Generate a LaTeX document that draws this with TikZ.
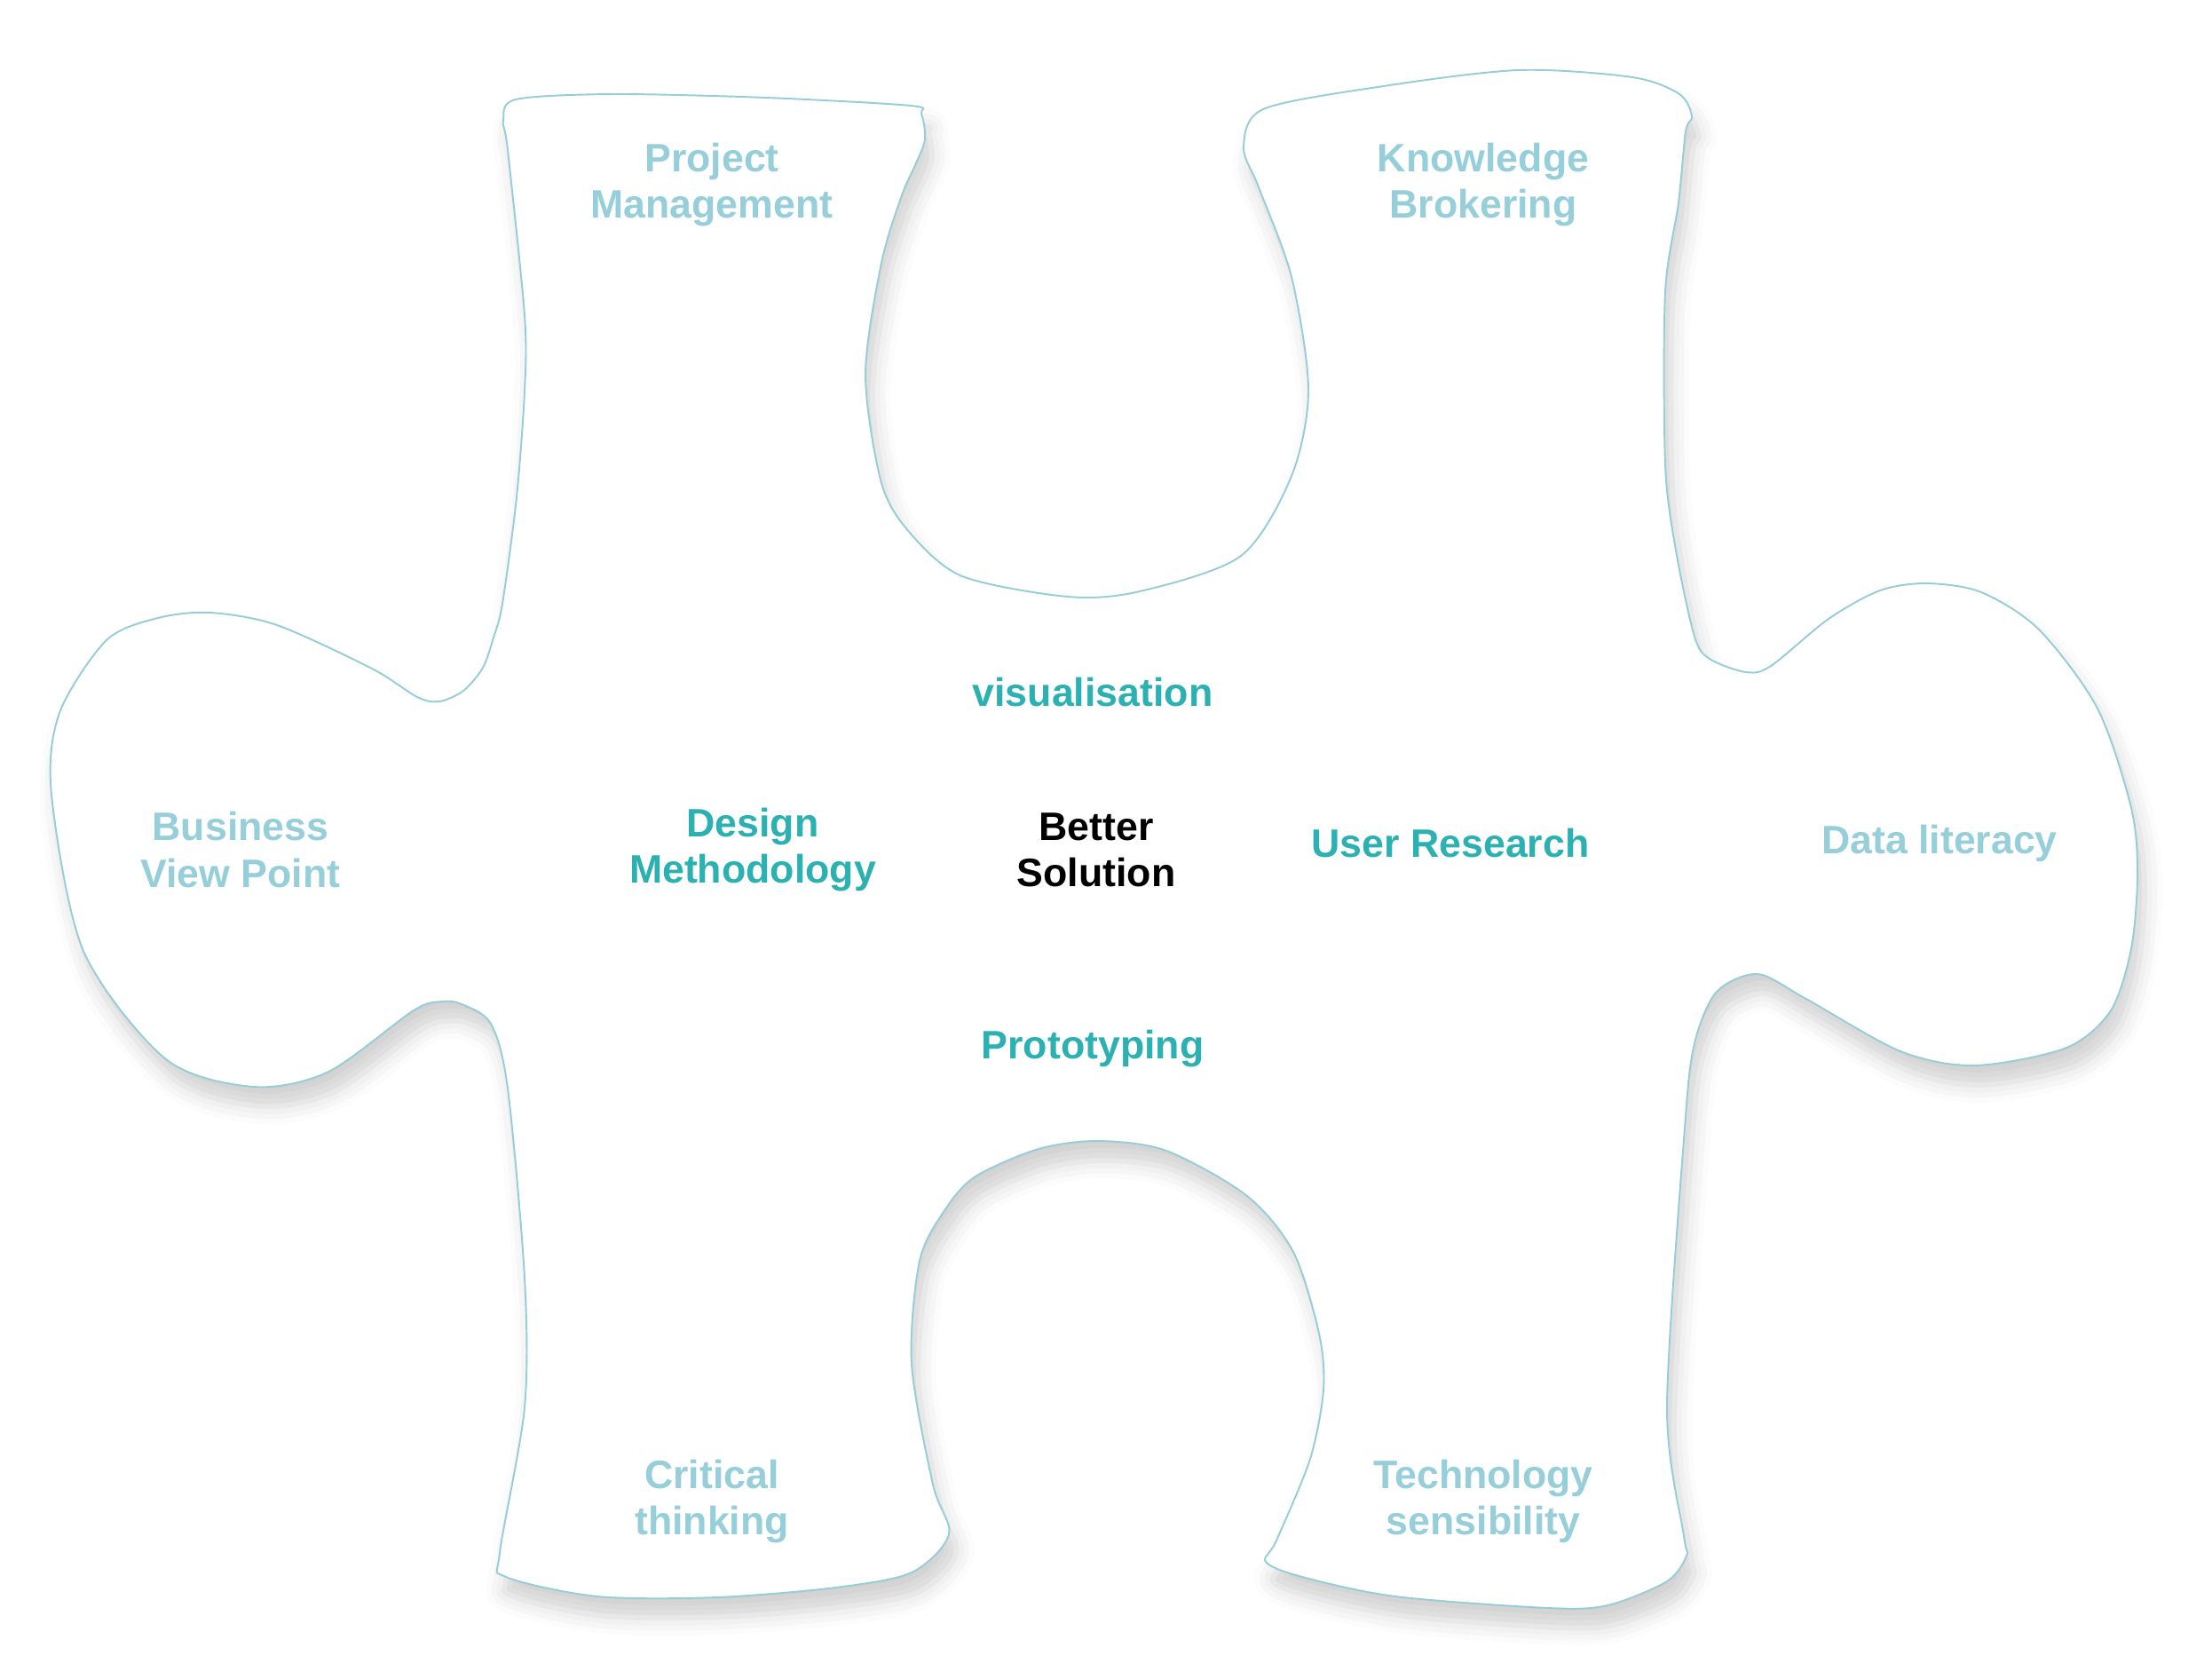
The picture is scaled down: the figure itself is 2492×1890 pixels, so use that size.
\documentclass[tikz,border=0pt]{standalone}
\usepackage{fontspec}
\setmainfont{Liberation Sans}
\usetikzlibrary{shadows.blur}
\definecolor{edgeblue}{RGB}{150,205,216}
\definecolor{softteal}{RGB}{150,207,218}
\definecolor{deepteal}{RGB}{44,177,179}
\tikzset{
  outer/.style={text=softteal, font=\fontsize{12.7}{14.8}\selectfont\bfseries, align=center},
  inner/.style={text=deepteal, font=\fontsize{12.7}{14.8}\selectfont\bfseries, align=center},
  core/.style={text=black, font=\fontsize{12.7}{14.8}\selectfont\bfseries, align=center}
}
\begin{document}
\begin{tikzpicture}[x=0.01cm, y=-0.01cm]
 \useasboundingbox (0,0) rectangle (2492,1890);

 %Piece
 \path[blur shadow={shadow xshift=0.08cm, shadow yshift=-0.22cm, shadow blur radius=0.2cm, shadow opacity=18}, fill=white, draw=edgeblue, line width=0.55pt]
  plot[smooth cycle, tension=0.5] coordinates {
   (566,680) (582,560) (591,440) (591,355) (572,169) (567,136) (581,112)
   (691,106) (863,110) (1026,119) (1038,128) (1042,157) (1031,186) (1016,220)
   (993,296) (975,422) (993,544) (1025,600) (1084,649) (1203,672) (1284,666)
   (1398,626) (1455,536) (1474,439) (1455,312) (1418,211) (1401,166) (1423,123)
   (1552,98) (1710,79) (1839,87) (1892,106) (1906,131) (1899,148) (1891,228)
   (1876,329) (1876,523) (1888,620) (1909,717) (1926,742) (1967,757) (1995,750)
   (2060,697) (2118,665) (2171,657) (2232,667) (2297,709) (2363,798) (2401,910)
   (2408,985) (2401,1068) (2378,1138) (2328,1180) (2225,1200) (2141,1184)
   (2033,1124) (1980,1097) (1934,1117) (1909,1175) (1898,1270) (1878,1585)
   (1897,1730) (1900,1752) (1878,1781) (1811,1808) (1744,1811) (1572,1798)
   (1467,1776) (1426,1759) (1438,1735) (1476,1643) (1491,1565) (1486,1502)
   (1457,1410) (1405,1347) (1314,1296) (1237,1285) (1170,1294) (1099,1325)
   (1065,1362) (1036,1420) (1027,1536) (1051,1672) (1069,1728) (1027,1771) (941,1788)
   (807,1799) (673,1798) (570,1776) (563,1749) (591,1585) (591,1439)
   (572,1226) (553,1153) (520,1131) (498,1128) (466,1138) (370,1207)
   (286,1224) (187,1193) (94,1071) (58,895) (67,803) (120,721) (178,696)
   (237,690) (312,704) (419,753) (470,785) (495,790) (522,778) (544,752)
   (556,718)
  };

 %Labels
 \node[outer] (pm) at (802,208) {Project\\Management};
 \node[outer] (kb) at (1671,208) {Knowledge\\Brokering};
 \node[outer] (bvp) at (271,957) {Business\\View Point};
 \node[inner] (dm) at (848,957) {Design\\Methodology};
 \node[core] (bs) at (1235,957) {Better\\Solution};
 \node[inner] (ur) at (1634,950) {User Research};
 \node[outer] (dl) at (2185,950) {Data literacy};
 \node[inner] (vis) at (1231,780) {visualisation};
 \node[inner] (proto) at (1231,1181) {Prototyping};
 \node[outer] (ct) at (802,1691) {Critical\\thinking};
 \node[outer] (ts) at (1671,1691) {Technology\\sensibility};

\end{tikzpicture}
\end{document}
